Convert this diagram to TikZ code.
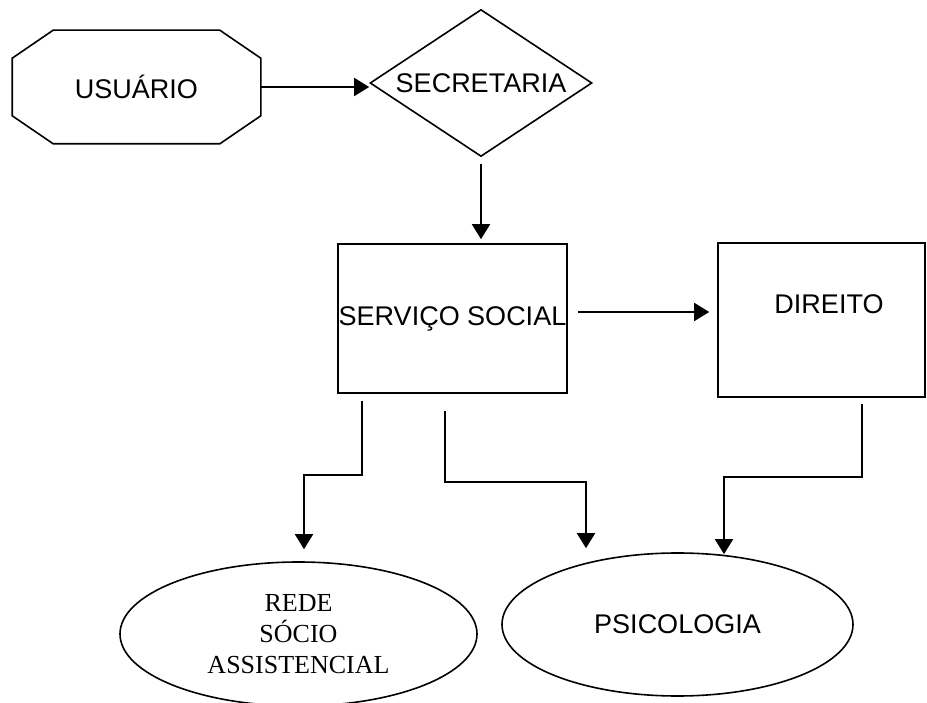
\documentclass[tikz,border=0pt]{standalone}
\usepackage{fontspec}
\setmainfont{Liberation Sans}
\newfontfamily\serifrm{Liberation Serif}
\usetikzlibrary{shapes.geometric,arrows.meta}

\begin{document}
\begin{tikzpicture}[x=1pt, y=1pt]
    % Define block styles
    \tikzstyle{shapeline} = [line width=1.6pt]
    \tikzstyle{block} = [rectangle, draw, shapeline, inner sep=0pt,
        font=\fontsize{27}{32}\selectfont]
    \tikzstyle{decision} = [diamond, draw, shapeline, aspect=1.5, inner sep=0pt,
        minimum width=222pt, minimum height=147pt, font=\fontsize{27}{32}\selectfont]
    \tikzstyle{cloud} = [ellipse, draw, shapeline, inner sep=0pt,
        font=\fontsize{27}{32}\selectfont]
    \tikzstyle{line} = [draw, line width=1.8pt, -{Triangle[length=15pt,width=18pt]}]

    \useasboundingbox (0,0) rectangle (927,702);

    % Upper row
    \node [block, draw=none, minimum width=247pt, minimum height=112pt] (usuario) at (136.5,615) {USUÁRIO};
    \draw [shapeline] ([xshift=41pt]usuario.north west) -- ([xshift=-41pt]usuario.north east)
        -- ([yshift=-28pt]usuario.north east) -- ([yshift=28pt]usuario.south east)
        -- ([xshift=-41pt]usuario.south east) -- ([xshift=41pt]usuario.south west)
        -- ([yshift=28pt]usuario.south west) -- ([yshift=-28pt]usuario.north west) -- cycle;
    \node [decision] (secretaria) at (481,619) {SECRETARIA};

    % Middle row
    \node [block, minimum width=229pt, minimum height=149pt] (servico) at (452.5,383.5) {\makebox[0pt]{SERVIÇO SOCIAL}};
    \node [block, minimum width=207pt, minimum height=154pt,
        label={[xshift=7.5pt, yshift=16pt, font=\fontsize{27}{32}\selectfont]center:DIREITO}] (direito) at (821.5,382) {};

    % Lower row
    \node [cloud, minimum width=357pt, minimum height=144pt, align=center,
        font=\serifrm\fontsize{26}{31}\selectfont] (rede) at (298.5,68) {REDE\\SÓCIO\\ASSISTENCIAL};
    \node [cloud, minimum width=351pt, minimum height=143pt] (psico) at (677.5,77.5) {PSICOLOGIA};

    % Paths
    \path [line] (usuario.east) -- (usuario.east -| secretaria.west);
    \path [line, shorten <=6.5pt, shorten >=4pt] (secretaria.south) -- (secretaria.south |- servico.north);
    \path [line, shorten <=10pt, shorten >=8pt] ([yshift=6.5pt]servico.east) -- ([yshift=6.5pt]servico.east -| direito.west);
    \path [line, shorten <=7pt, shorten >=12pt] ([xshift=-90.5pt]servico.south)
        |- ([xshift=5.5pt, yshift=86pt]rede.north) -- ([xshift=5.5pt]rede.north);
    \path [line, shorten <=17pt] ([xshift=-7.5pt]servico.south)
        |- ([xshift=-91.5pt, yshift=70pt]psico.north) -- ([xshift=-91.5pt, yshift=4pt]psico.north);
    \path [line, shorten <=6pt] ([xshift=40.5pt]direito.south)
        |- ([xshift=46.5pt, yshift=75pt]psico.north) -- ([xshift=46.5pt, yshift=-2pt]psico.north);

\end{tikzpicture}
\end{document}
